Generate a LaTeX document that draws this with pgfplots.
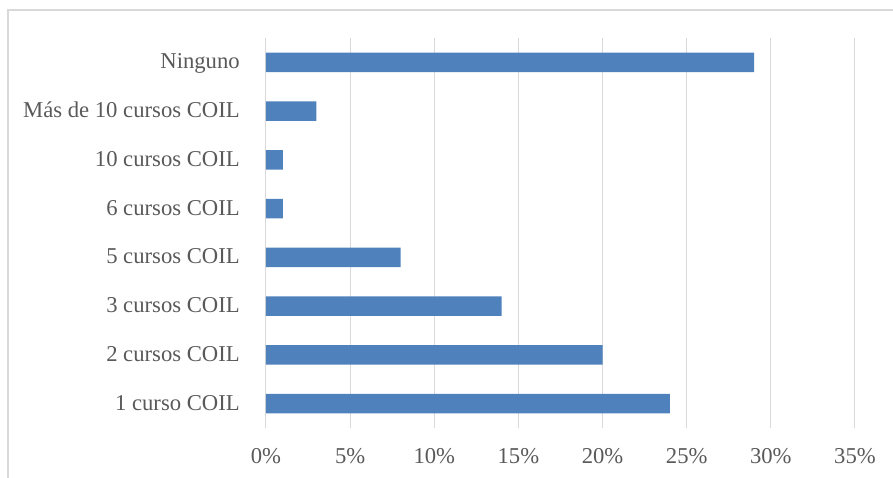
\documentclass[border=0pt]{standalone}
\usepackage{pgfplots}
\pgfplotsset{compat=1.18}
\usepackage{fontspec}
\setmainfont{Liberation Serif}
\definecolor{barblue}{HTML}{4F81BD}
\definecolor{gridgray}{HTML}{D9D9D9}
\definecolor{txtgray}{HTML}{595959}
\begin{document}
\begin{tikzpicture}
  % page = 893x478 px, 1px = 0.75pt; plot area SW at (0,0)
  \path[use as bounding box] (-199.5pt,-37.5pt) rectangle (470.25pt,321pt);
  \draw[gridgray, line width=0.9pt] (-193.5pt,-60pt) rectangle (490pt,313.5pt);
  \begin{axis}[
      xbar, bar width=14.6pt,
      scale only axis, width=441.75pt, height=292.5pt,
      xmin=0, xmax=35, ymin=-0.5, ymax=7.5,
      xtick={0,5,...,35},
      xticklabel={\pgfmathprintnumber{\tick}\%},
      ytick={0,...,7},
      yticklabels={1 curso COIL, 2 cursos COIL, 3 cursos COIL, 5 cursos COIL,
                   6 cursos COIL, 10 cursos COIL, Más de 10 cursos COIL, Ninguno},
      /pgf/number format/assume math mode=true,
      xmajorgrids,
      grid style={gridgray, line width=0.75pt},
      axis line style={draw=none},
      major tick length=0pt,
      ticklabel style={text=txtgray, font=\fontsize{17}{20}\selectfont, inner sep=0pt},
      xticklabel style={anchor=mid, yshift=-24pt},
      yticklabel style={anchor=mid east, xshift=-19.5pt, yshift=-2.5pt},
    ]
    \addplot[fill=barblue, draw=none] coordinates {
      (24,0) (20,1) (14,2) (8,3) (1,4) (1,5) (3,6) (29,7)
    };
  \end{axis}
\end{tikzpicture}
\end{document}
